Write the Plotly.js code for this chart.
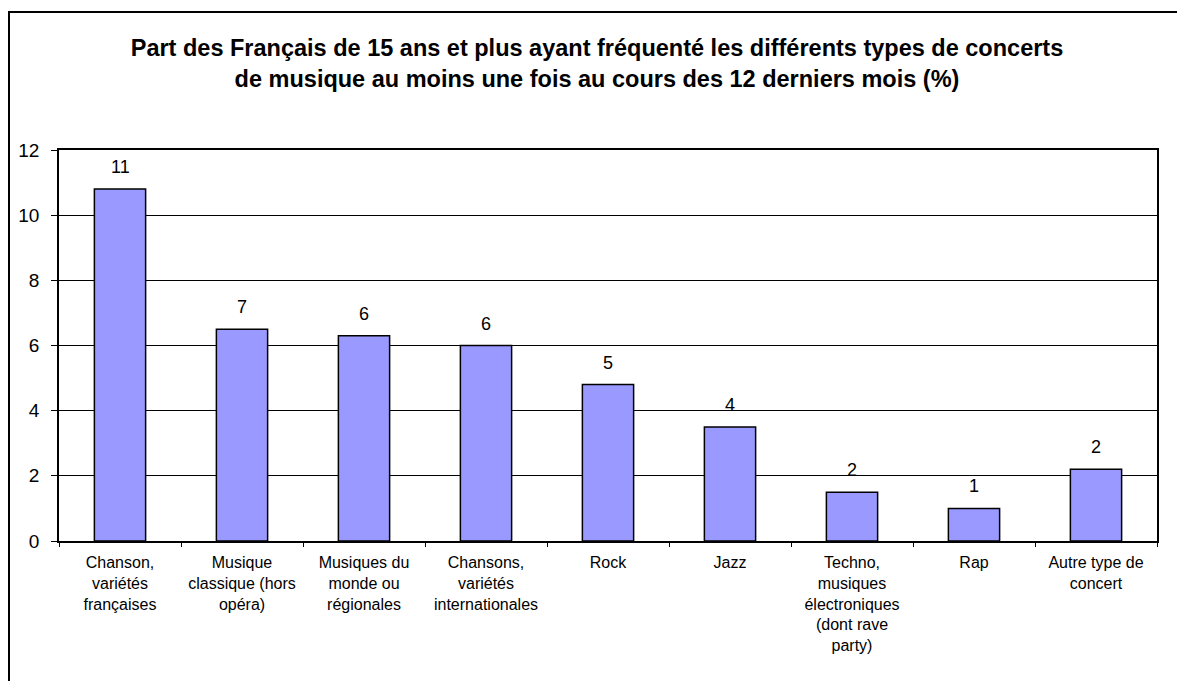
<!DOCTYPE html>
<html>
<head>
<meta charset="utf-8">
<script src="https://cdn.plot.ly/plotly-3.0.1.min.js"></script>
<style>
  html, body { margin: 0; padding: 0; background: #fff; }
  #wrap { position: relative; width: 1177px; height: 681px; overflow: hidden; }
  #chart { position: absolute; left: 0; top: 0; width: 1177px; height: 681px; }
  #frame { position: absolute; left: 8px; top: 11px; width: 1300px; height: 800px;
           border-left: 2px solid #000; border-top: 2px solid #000; pointer-events: none; }
</style>
</head>
<body>
<div id="wrap">
  <div id="chart"></div>
  <div id="frame"></div>
</div>
<script>
const categories = [
  "Chanson,<br>variétés<br>françaises",
  "Musique<br>classique (hors<br>opéra)",
  "Musiques du<br>monde ou<br>régionales",
  "Chansons,<br>variétés<br>internationales",
  "Rock",
  "Jazz",
  "Techno,<br>musiques<br>électroniques<br>(dont rave<br>party)",
  "Rap",
  "Autre type de<br>concert"
];
const values = [10.8, 6.5, 6.3, 6.0, 4.8, 3.5, 1.5, 1.0, 2.2];
const valueLabels = ["11", "7", "6", "6", "5", "4", "2", "1", "2"];
const yTicks = [0, 2, 4, 6, 8, 10, 12];
const titleText = "Part des Français de 15 ans et plus ayant fréquenté les différents types de concerts<br>de musique au moins une fois au cours des 12 derniers mois (%)";

const FONT = "Liberation Sans, Arial, sans-serif";

const trace = {
  type: "bar",
  x: categories,
  y: values,
  marker: { color: "#9999FF", line: { color: "#000", width: 1.5 } },
  hoverinfo: "skip"
};

const annotations = categories.map((c, i) => ({
  x: c, y: values[i], xref: "x", yref: "y",
  text: valueLabels[i], showarrow: false,
  yanchor: "bottom", yshift: 10,
  font: { family: FONT, size: 18, color: "#000" }
}));

const layout = {
  width: 1177, height: 681,
  margin: { l: 59, r: 20, t: 150, b: 140, pad: 0 },
  paper_bgcolor: "#fff", plot_bgcolor: "#fff",
  showlegend: false,
  bargap: 0.58,
  title: {
    text: titleText,
    font: { family: FONT, size: 23.5, color: "#000", weight: "bold" },
    x: 597 / 1177, xref: "container", xanchor: "center",
    y: 1 - 56 / 681, yref: "container", yanchor: "middle"
  },
  xaxis: {
    type: "category",
    showline: true, linecolor: "#000", linewidth: 1.8, mirror: true,
    ticks: "outside", ticklen: 4, tickcolor: "#000", tickwidth: 1,
    tickson: "boundaries",
    showgrid: false, zeroline: false,
    tickangle: 0,
    ticklabelstandoff: 6,
    tickfont: { family: FONT, size: 16, color: "#000" }
  },
  yaxis: {
    range: [0, 12],
    tickvals: yTicks,
    ticktext: yTicks.map(String),
    showline: true, linecolor: "#000", linewidth: 1.8, mirror: true,
    ticks: "outside", ticklen: 6, tickcolor: "#000", tickwidth: 1,
    showgrid: true, gridcolor: "#000", gridwidth: 1.2,
    zeroline: false,
    ticklabelstandoff: 8,
    tickfont: { family: FONT, size: 19, color: "#000" }
  },
  annotations: annotations
};

Plotly.newPlot("chart", [trace], layout, { staticPlot: true, displayModeBar: false });
</script>
</body>
</html>
